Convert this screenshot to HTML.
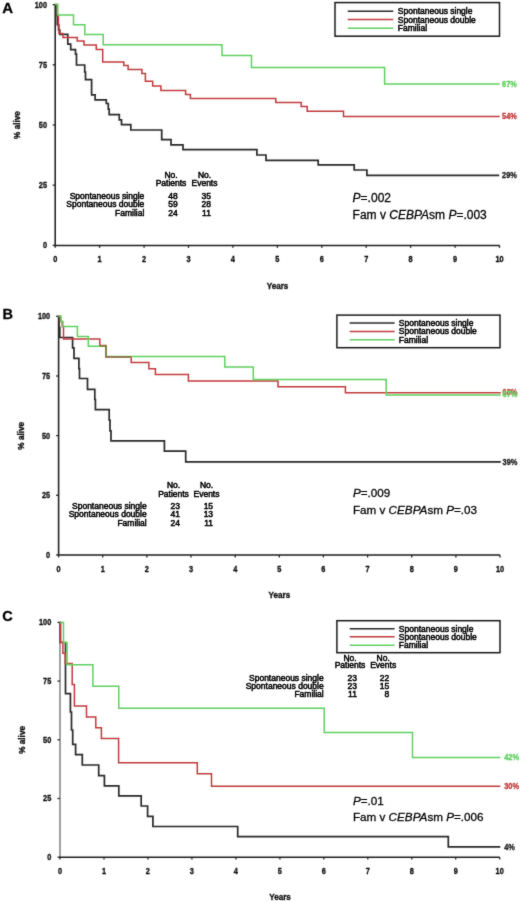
<!DOCTYPE html>
<html><head><meta charset="utf-8"><title>Kaplan-Meier survival</title>
<style>
html,body{margin:0;padding:0;background:#fff;}
body{width:520px;height:901px;overflow:hidden;}
svg{display:block;}
text{font-family:"Liberation Sans",sans-serif;fill:#111;}
.pl{font-weight:bold;fill:#000;stroke:#000;stroke-width:0.3px;}
.ax{font-weight:bold;stroke:#111;stroke-width:0.35px;}
.lg{font-size:8.5px;fill:#000;stroke:#000;stroke-width:0.5px;}
.pv{fill:#000;stroke:#000;stroke-width:0.28px;}
</style></head>
<body>
<svg width="520" height="901" viewBox="0 0 520 901">
<defs><filter id="bl" x="-2%" y="-2%" width="104%" height="104%"><feConvolveMatrix order="3" kernelMatrix="0.02 0.07 0.02 0.07 0.64 0.07 0.02 0.07 0.02" edgeMode="none" preserveAlpha="false"/></filter></defs>
<rect width="520" height="901" fill="#fff"/>
<g filter="url(#bl)">
<text x="2.3" y="12.7" class="pl" font-size="15">A</text>
<path d="M55.2,4.6 V245.4" stroke="#262626" stroke-width="1.6" fill="none"/>
<path d="M54.4,245.4 H499.5" stroke="#1e1e1e" stroke-width="1.5" fill="none"/>
<path d="M52.7,4.6 H55.2" stroke="#222" stroke-width="1.3"/>
<text transform="translate(47.0,7.5) scale(0.8,1)" class="ax" text-anchor="end" font-size="9.2">100</text>
<path d="M52.7,64.8 H55.2" stroke="#222" stroke-width="1.3"/>
<text transform="translate(47.0,67.7) scale(0.8,1)" class="ax" text-anchor="end" font-size="9.2">75</text>
<path d="M52.7,125.0 H55.2" stroke="#222" stroke-width="1.3"/>
<text transform="translate(47.0,127.9) scale(0.8,1)" class="ax" text-anchor="end" font-size="9.2">50</text>
<path d="M52.7,185.2 H55.2" stroke="#222" stroke-width="1.3"/>
<text transform="translate(47.0,188.1) scale(0.8,1)" class="ax" text-anchor="end" font-size="9.2">25</text>
<path d="M52.7,245.4 H55.2" stroke="#222" stroke-width="1.3"/>
<text transform="translate(47.0,248.3) scale(0.8,1)" class="ax" text-anchor="end" font-size="9.2">0</text>
<path d="M55.2,245.4 V247.8" stroke="#222" stroke-width="1.3"/>
<text transform="translate(55.2,262.0) scale(0.8,1)" class="ax" text-anchor="middle" font-size="9.2">0</text>
<path d="M99.6,245.4 V247.8" stroke="#222" stroke-width="1.3"/>
<text transform="translate(99.6,262.0) scale(0.8,1)" class="ax" text-anchor="middle" font-size="9.2">1</text>
<path d="M144.1,245.4 V247.8" stroke="#222" stroke-width="1.3"/>
<text transform="translate(144.1,262.0) scale(0.8,1)" class="ax" text-anchor="middle" font-size="9.2">2</text>
<path d="M188.5,245.4 V247.8" stroke="#222" stroke-width="1.3"/>
<text transform="translate(188.5,262.0) scale(0.8,1)" class="ax" text-anchor="middle" font-size="9.2">3</text>
<path d="M232.9,245.4 V247.8" stroke="#222" stroke-width="1.3"/>
<text transform="translate(232.9,262.0) scale(0.8,1)" class="ax" text-anchor="middle" font-size="9.2">4</text>
<path d="M277.4,245.4 V247.8" stroke="#222" stroke-width="1.3"/>
<text transform="translate(277.4,262.0) scale(0.8,1)" class="ax" text-anchor="middle" font-size="9.2">5</text>
<path d="M321.8,245.4 V247.8" stroke="#222" stroke-width="1.3"/>
<text transform="translate(321.8,262.0) scale(0.8,1)" class="ax" text-anchor="middle" font-size="9.2">6</text>
<path d="M366.2,245.4 V247.8" stroke="#222" stroke-width="1.3"/>
<text transform="translate(366.2,262.0) scale(0.8,1)" class="ax" text-anchor="middle" font-size="9.2">7</text>
<path d="M410.6,245.4 V247.8" stroke="#222" stroke-width="1.3"/>
<text transform="translate(410.6,262.0) scale(0.8,1)" class="ax" text-anchor="middle" font-size="9.2">8</text>
<path d="M455.1,245.4 V247.8" stroke="#222" stroke-width="1.3"/>
<text transform="translate(455.1,262.0) scale(0.8,1)" class="ax" text-anchor="middle" font-size="9.2">9</text>
<path d="M499.5,245.4 V247.8" stroke="#222" stroke-width="1.3"/>
<text transform="translate(499.5,262.0) scale(0.8,1)" class="ax" text-anchor="middle" font-size="9.2">10</text>
<text transform="translate(277.5,289.0) scale(0.84,1)" class="ax" text-anchor="middle" font-size="9.7">Years</text>
<text transform="translate(19.8,125.0) rotate(-90)" class="ax" text-anchor="middle" font-size="8.2">% alive</text>
<rect x="335.0" y="2.6" width="164.5" height="33.6" fill="none" stroke="#1a1a1a" stroke-width="1.5"/>
<path d="M347.7,11.2 H393.3" stroke="#2a2a2a" stroke-width="1.5"/>
<text x="397.8" y="14.1" class="lg">Spontaneous single</text>
<path d="M347.7,19.6 H393.3" stroke="#c23a3e" stroke-width="1.5"/>
<text x="397.8" y="22.5" class="lg">Spontaneous double</text>
<path d="M347.7,28.3 H393.3" stroke="#5fd05f" stroke-width="1.5"/>
<text x="397.8" y="31.2" class="lg">Familial</text>
<text x="144.3" y="199.2" class="lg" text-anchor="end">Spontaneous single</text>
<text x="177.7" y="199.2" class="lg" text-anchor="end">48</text>
<text x="210.9" y="199.2" class="lg" text-anchor="end">35</text>
<text x="144.3" y="207.4" class="lg" text-anchor="end">Spontaneous double</text>
<text x="177.7" y="207.4" class="lg" text-anchor="end">59</text>
<text x="210.9" y="207.4" class="lg" text-anchor="end">28</text>
<text x="144.3" y="215.6" class="lg" text-anchor="end">Familial</text>
<text x="177.7" y="215.6" class="lg" text-anchor="end">24</text>
<text x="210.9" y="215.6" class="lg" text-anchor="end">11</text>
<text x="171.0" y="178.3" class="lg" text-anchor="middle">No.</text>
<text x="171.0" y="186.4" class="lg" text-anchor="middle">Patients</text>
<text x="204.5" y="178.3" class="lg" text-anchor="middle">No.</text>
<text x="204.5" y="186.4" class="lg" text-anchor="middle">Events</text>
<text x="352.6" y="202.2" class="pv" font-size="12"><tspan font-style="italic">P</tspan>=.002</text>
<text x="352.6" y="218.5" class="pv" font-size="12">Fam v <tspan font-style="italic">CEBPA</tspan>sm <tspan font-style="italic">P</tspan>=.003</text>
<path d="M55.2,4.6 H56 V15.3 H57.3 V24.7 H58.5 V30 H59.8 V34.4 H67.8 V44.2 H70.7 V49.6 H75.5 V54.2 H76.5 V65 H84.7 V72 H85.5 V79.7 H91.6 V94.8 H95.1 V99.8 H106.3 V103.5 H108.3 V109.2 H109.2 V114.6 H119.3 V119.8 H121.5 V124.6 H130.8 V130 H161.7 V139.6 H171 V144.8 H183 V149.6 H256.9 V155 H266 V160.3 H318.2 V164.9 H354.2 V170 H366.9 V175.4 H499.2" stroke="#2a2a2a" stroke-width="1.7" fill="none" stroke-linejoin="miter" stroke-linecap="butt"/>
<path d="M55.5,4.6 H57.5 V15.3 H58.4 V25 H59 V33.5 H62.9 V37.5 H77.2 V41 H84 V45 H96.3 V49.4 H102.7 V61.9 H123.8 V65.4 H128.1 V69.6 H141.9 V73.5 H145.4 V81.2 H152.7 V86 H160.9 V90.6 H185.6 V94.4 H190.4 V98.5 H275.8 V102.6 H301.2 V106.5 H307.2 V111.2 H343.5 V116.4 H499.6" stroke="#c23a3e" stroke-width="1.5" fill="none" stroke-linejoin="miter" stroke-linecap="butt"/>
<path d="M55.2,4.6 H57.6 V14.9 H73.5 V24.8 H84.8 V34.6 H103.2 V44.8 H222 V55.5 H251.5 V67.6 H384.6 V84.0 H499.6" stroke="#5fd05f" stroke-width="1.5" fill="none" stroke-linejoin="miter" stroke-linecap="butt"/>
<text transform="translate(502.0,86.9) scale(0.8,1)" class="ax" style="fill:#5fd05f;stroke:#5fd05f" font-size="9.3">67%</text>
<text transform="translate(502.0,119.3) scale(0.8,1)" class="ax" style="fill:#c23a3e;stroke:#c23a3e" font-size="9.3">54%</text>
<text transform="translate(502.0,178.3) scale(0.8,1)" class="ax" style="fill:#222;stroke:#222" font-size="9.3">29%</text>
<text x="2.5" y="318.8" class="pl" font-size="14.5">B</text>
<path d="M58.6,316.3 V555.0" stroke="#262626" stroke-width="1.6" fill="none"/>
<path d="M57.8,555.0 H500.0" stroke="#1e1e1e" stroke-width="1.5" fill="none"/>
<path d="M56.1,316.3 H58.6" stroke="#222" stroke-width="1.3"/>
<text transform="translate(50.2,319.2) scale(0.8,1)" class="ax" text-anchor="end" font-size="9.2">100</text>
<path d="M56.1,376.0 H58.6" stroke="#222" stroke-width="1.3"/>
<text transform="translate(50.2,378.9) scale(0.8,1)" class="ax" text-anchor="end" font-size="9.2">75</text>
<path d="M56.1,435.6 H58.6" stroke="#222" stroke-width="1.3"/>
<text transform="translate(50.2,438.5) scale(0.8,1)" class="ax" text-anchor="end" font-size="9.2">50</text>
<path d="M56.1,495.3 H58.6" stroke="#222" stroke-width="1.3"/>
<text transform="translate(50.2,498.2) scale(0.8,1)" class="ax" text-anchor="end" font-size="9.2">25</text>
<path d="M56.1,555.0 H58.6" stroke="#222" stroke-width="1.3"/>
<text transform="translate(50.2,557.9) scale(0.8,1)" class="ax" text-anchor="end" font-size="9.2">0</text>
<path d="M58.6,555.0 V557.4" stroke="#222" stroke-width="1.3"/>
<text transform="translate(58.6,571.5) scale(0.8,1)" class="ax" text-anchor="middle" font-size="9.2">0</text>
<path d="M102.7,555.0 V557.4" stroke="#222" stroke-width="1.3"/>
<text transform="translate(102.7,571.5) scale(0.8,1)" class="ax" text-anchor="middle" font-size="9.2">1</text>
<path d="M146.9,555.0 V557.4" stroke="#222" stroke-width="1.3"/>
<text transform="translate(146.9,571.5) scale(0.8,1)" class="ax" text-anchor="middle" font-size="9.2">2</text>
<path d="M191.0,555.0 V557.4" stroke="#222" stroke-width="1.3"/>
<text transform="translate(191.0,571.5) scale(0.8,1)" class="ax" text-anchor="middle" font-size="9.2">3</text>
<path d="M235.2,555.0 V557.4" stroke="#222" stroke-width="1.3"/>
<text transform="translate(235.2,571.5) scale(0.8,1)" class="ax" text-anchor="middle" font-size="9.2">4</text>
<path d="M279.3,555.0 V557.4" stroke="#222" stroke-width="1.3"/>
<text transform="translate(279.3,571.5) scale(0.8,1)" class="ax" text-anchor="middle" font-size="9.2">5</text>
<path d="M323.4,555.0 V557.4" stroke="#222" stroke-width="1.3"/>
<text transform="translate(323.4,571.5) scale(0.8,1)" class="ax" text-anchor="middle" font-size="9.2">6</text>
<path d="M367.6,555.0 V557.4" stroke="#222" stroke-width="1.3"/>
<text transform="translate(367.6,571.5) scale(0.8,1)" class="ax" text-anchor="middle" font-size="9.2">7</text>
<path d="M411.7,555.0 V557.4" stroke="#222" stroke-width="1.3"/>
<text transform="translate(411.7,571.5) scale(0.8,1)" class="ax" text-anchor="middle" font-size="9.2">8</text>
<path d="M455.9,555.0 V557.4" stroke="#222" stroke-width="1.3"/>
<text transform="translate(455.9,571.5) scale(0.8,1)" class="ax" text-anchor="middle" font-size="9.2">9</text>
<path d="M500.0,555.0 V557.4" stroke="#222" stroke-width="1.3"/>
<text transform="translate(500.0,571.5) scale(0.8,1)" class="ax" text-anchor="middle" font-size="9.2">10</text>
<text transform="translate(279.4,598.2) scale(0.84,1)" class="ax" text-anchor="middle" font-size="9.7">Years</text>
<text transform="translate(23.8,435.8) rotate(-90)" class="ax" text-anchor="middle" font-size="8.2">% alive</text>
<rect x="336.9" y="315.1" width="163.1" height="32.6" fill="none" stroke="#1a1a1a" stroke-width="1.5"/>
<path d="M349.7,323.1 H394.6" stroke="#2a2a2a" stroke-width="1.5"/>
<text x="398.8" y="326.0" class="lg">Spontaneous single</text>
<path d="M349.7,331.5 H394.6" stroke="#c23a3e" stroke-width="1.5"/>
<text x="398.8" y="334.4" class="lg">Spontaneous double</text>
<path d="M349.7,339.7 H394.6" stroke="#5fd05f" stroke-width="1.5"/>
<text x="398.8" y="342.6" class="lg">Familial</text>
<text x="146.7" y="509.1" class="lg" text-anchor="end">Spontaneous single</text>
<text x="180.0" y="509.1" class="lg" text-anchor="end">23</text>
<text x="213.1" y="509.1" class="lg" text-anchor="end">15</text>
<text x="146.7" y="517.3" class="lg" text-anchor="end">Spontaneous double</text>
<text x="180.0" y="517.3" class="lg" text-anchor="end">41</text>
<text x="213.1" y="517.3" class="lg" text-anchor="end">13</text>
<text x="146.7" y="525.5" class="lg" text-anchor="end">Familial</text>
<text x="180.0" y="525.5" class="lg" text-anchor="end">24</text>
<text x="213.1" y="525.5" class="lg" text-anchor="end">11</text>
<text x="173.5" y="488.4" class="lg" text-anchor="middle">No.</text>
<text x="173.5" y="496.7" class="lg" text-anchor="middle">Patients</text>
<text x="206.5" y="488.4" class="lg" text-anchor="middle">No.</text>
<text x="206.5" y="496.7" class="lg" text-anchor="middle">Events</text>
<text x="352.9" y="497.1" class="pv" font-size="11.7"><tspan font-style="italic">P</tspan>=.009</text>
<text x="352.9" y="514.0" class="pv" font-size="11.7">Fam v <tspan font-style="italic">CEBPA</tspan>sm <tspan font-style="italic">P</tspan>=.03</text>
<path d="M58.6,316.3 H59 V327.4 H59.8 V337.5 H72.6 V347.9 H74 V358.3 H78.9 V368.7 H79.5 V378.5 H87.5 V389.4 H94.8 V399.5 H95.4 V409.6 H109.2 V420.2 H110 V430.8 H111 V440.8 H164.4 V451.2 H185.7 V461.9 H500.8" stroke="#2a2a2a" stroke-width="1.7" fill="none" stroke-linejoin="miter" stroke-linecap="butt"/>
<path d="M58.6,316.3 H60.3 V321.6 H62.2 V326.4 H63.5 V339 H99.8 V345.6 H106 V357 H131.2 V362.6 H148.9 V368.8 H155.4 V374.6 H188.4 V380.9 H278 V386.7 H345.4 V392.8 H500.8" stroke="#c23a3e" stroke-width="1.5" fill="none" stroke-linejoin="miter" stroke-linecap="butt"/>
<path d="M58.6,316.3 H61 V321.6 H63 V326.4 H77.4 V336.5 H88.3 V346.2 H106 V356.5 H224.8 V366.9 H253.3 V379.4 H386.2 V395.0 H500.8" stroke="#5fd05f" stroke-width="1.5" fill="none" stroke-linejoin="miter" stroke-linecap="butt"/>
<path d="M99.8,345.9 H106 V356.8 H131.2" stroke="#8a7444" stroke-width="1.5" fill="none"/>
<text transform="translate(502.6,395.3) scale(0.8,1)" class="ax" style="fill:#c23a3e;stroke:#c23a3e" font-size="9.3">68%</text>
<text transform="translate(502.6,397.3) scale(0.8,1)" class="ax" style="fill:#5fd05f;stroke:#5fd05f" font-size="9.3">67%</text>
<text transform="translate(502.6,464.8) scale(0.8,1)" class="ax" style="fill:#222;stroke:#222" font-size="9.3">39%</text>
<text x="2.3" y="621.3" class="pl" font-size="14.5">C</text>
<path d="M60.0,622.4 V857.2" stroke="#8a8a8a" stroke-width="1.6" fill="none"/>
<path d="M59.2,857.2 H499.7" stroke="#1e1e1e" stroke-width="1.5" fill="none"/>
<path d="M57.5,622.4 H60.0" stroke="#222" stroke-width="1.3"/>
<text transform="translate(51.3,625.3) scale(0.8,1)" class="ax" text-anchor="end" font-size="9.2">100</text>
<path d="M57.5,681.1 H60.0" stroke="#222" stroke-width="1.3"/>
<text transform="translate(51.3,684.0) scale(0.8,1)" class="ax" text-anchor="end" font-size="9.2">75</text>
<path d="M57.5,739.8 H60.0" stroke="#222" stroke-width="1.3"/>
<text transform="translate(51.3,742.7) scale(0.8,1)" class="ax" text-anchor="end" font-size="9.2">50</text>
<path d="M57.5,798.5 H60.0" stroke="#222" stroke-width="1.3"/>
<text transform="translate(51.3,801.4) scale(0.8,1)" class="ax" text-anchor="end" font-size="9.2">25</text>
<path d="M57.5,857.2 H60.0" stroke="#222" stroke-width="1.3"/>
<text transform="translate(51.3,860.1) scale(0.8,1)" class="ax" text-anchor="end" font-size="9.2">0</text>
<path d="M60.0,857.2 V859.6" stroke="#222" stroke-width="1.3"/>
<text transform="translate(60.0,873.5) scale(0.8,1)" class="ax" text-anchor="middle" font-size="9.2">0</text>
<path d="M104.0,857.2 V859.6" stroke="#222" stroke-width="1.3"/>
<text transform="translate(104.0,873.5) scale(0.8,1)" class="ax" text-anchor="middle" font-size="9.2">1</text>
<path d="M147.9,857.2 V859.6" stroke="#222" stroke-width="1.3"/>
<text transform="translate(147.9,873.5) scale(0.8,1)" class="ax" text-anchor="middle" font-size="9.2">2</text>
<path d="M191.9,857.2 V859.6" stroke="#222" stroke-width="1.3"/>
<text transform="translate(191.9,873.5) scale(0.8,1)" class="ax" text-anchor="middle" font-size="9.2">3</text>
<path d="M235.9,857.2 V859.6" stroke="#222" stroke-width="1.3"/>
<text transform="translate(235.9,873.5) scale(0.8,1)" class="ax" text-anchor="middle" font-size="9.2">4</text>
<path d="M279.9,857.2 V859.6" stroke="#222" stroke-width="1.3"/>
<text transform="translate(279.9,873.5) scale(0.8,1)" class="ax" text-anchor="middle" font-size="9.2">5</text>
<path d="M323.8,857.2 V859.6" stroke="#222" stroke-width="1.3"/>
<text transform="translate(323.8,873.5) scale(0.8,1)" class="ax" text-anchor="middle" font-size="9.2">6</text>
<path d="M367.8,857.2 V859.6" stroke="#222" stroke-width="1.3"/>
<text transform="translate(367.8,873.5) scale(0.8,1)" class="ax" text-anchor="middle" font-size="9.2">7</text>
<path d="M411.8,857.2 V859.6" stroke="#222" stroke-width="1.3"/>
<text transform="translate(411.8,873.5) scale(0.8,1)" class="ax" text-anchor="middle" font-size="9.2">8</text>
<path d="M455.7,857.2 V859.6" stroke="#222" stroke-width="1.3"/>
<text transform="translate(455.7,873.5) scale(0.8,1)" class="ax" text-anchor="middle" font-size="9.2">9</text>
<path d="M499.7,857.2 V859.6" stroke="#222" stroke-width="1.3"/>
<text transform="translate(499.7,873.5) scale(0.8,1)" class="ax" text-anchor="middle" font-size="9.2">10</text>
<text transform="translate(280.0,899.8) scale(0.84,1)" class="ax" text-anchor="middle" font-size="9.7">Years</text>
<text transform="translate(25.0,739.9) rotate(-90)" class="ax" text-anchor="middle" font-size="8.2">% alive</text>
<rect x="336.9" y="620.7" width="163.1" height="32.0" fill="none" stroke="#1a1a1a" stroke-width="1.5"/>
<path d="M349.7,628.8 H394.6" stroke="#2a2a2a" stroke-width="1.5"/>
<text x="398.8" y="631.7" class="lg">Spontaneous single</text>
<path d="M349.7,636.8 H394.6" stroke="#c23a3e" stroke-width="1.5"/>
<text x="398.8" y="639.7" class="lg">Spontaneous double</text>
<path d="M349.7,645.2 H394.6" stroke="#5fd05f" stroke-width="1.5"/>
<text x="398.8" y="648.1" class="lg">Familial</text>
<text x="323.7" y="681.0" class="lg" text-anchor="end">Spontaneous single</text>
<text x="356.9" y="681.0" class="lg" text-anchor="end">23</text>
<text x="389.2" y="681.0" class="lg" text-anchor="end">22</text>
<text x="323.7" y="689.0" class="lg" text-anchor="end">Spontaneous double</text>
<text x="356.9" y="689.0" class="lg" text-anchor="end">23</text>
<text x="389.2" y="689.0" class="lg" text-anchor="end">15</text>
<text x="323.7" y="697.0" class="lg" text-anchor="end">Familial</text>
<text x="356.9" y="697.0" class="lg" text-anchor="end">11</text>
<text x="389.2" y="697.0" class="lg" text-anchor="end">8</text>
<text x="350.0" y="660.5" class="lg" text-anchor="middle">No.</text>
<text x="350.0" y="668.3" class="lg" text-anchor="middle">Patients</text>
<text x="383.2" y="660.5" class="lg" text-anchor="middle">No.</text>
<text x="383.2" y="668.3" class="lg" text-anchor="middle">Events</text>
<text x="352.9" y="805.0" class="pv" font-size="11.7"><tspan font-style="italic">P</tspan>=.01</text>
<text x="352.9" y="821.3" class="pv" font-size="11.7">Fam v <tspan font-style="italic">CEBPA</tspan>sm <tspan font-style="italic">P</tspan>=.006</text>
<path d="M60,622.4 H60.3 V642.5 H65.5 V693.7 H70.4 V712 H71.5 V730 H72.7 V744.4 H75.6 V754.6 H82.3 V765 H98.7 V775.6 H104.4 V785.8 H118.8 V795.9 H141.2 V806 H147.6 V816.3 H152.9 V826.5 H237.7 V836.6 H448.3 V846.9 H500.3" stroke="#2a2a2a" stroke-width="1.7" fill="none" stroke-linejoin="miter" stroke-linecap="butt"/>
<path d="M60,622.4 H60.6 V642.2 H62.9 V653.2 H65.2 V663.5 H72.2 V684.4 H74.4 V706 H86.5 V717 H95.8 V727.7 H101.4 V738.4 H118.6 V762.7 H197.3 V773.8 H211.5 V786.2 H500.3" stroke="#c23a3e" stroke-width="1.5" fill="none" stroke-linejoin="miter" stroke-linecap="butt"/>
<path d="M60,622.4 H63.5 V642.5 H67.1 V664.7 H92.9 V686.2 H118.8 V708.2 H324.2 V732.4 H412.5 V757.6 H500.3" stroke="#5fd05f" stroke-width="1.5" fill="none" stroke-linejoin="miter" stroke-linecap="butt"/>
<text transform="translate(504.2,759.7) scale(0.8,1)" class="ax" style="fill:#5fd05f;stroke:#5fd05f" font-size="9.3">42%</text>
<text transform="translate(504.2,789.1) scale(0.8,1)" class="ax" style="fill:#c23a3e;stroke:#c23a3e" font-size="9.3">30%</text>
<text transform="translate(504.2,849.8) scale(0.8,1)" class="ax" style="fill:#222;stroke:#222" font-size="9.3">4%</text>
</g>
</svg>
</body></html>
